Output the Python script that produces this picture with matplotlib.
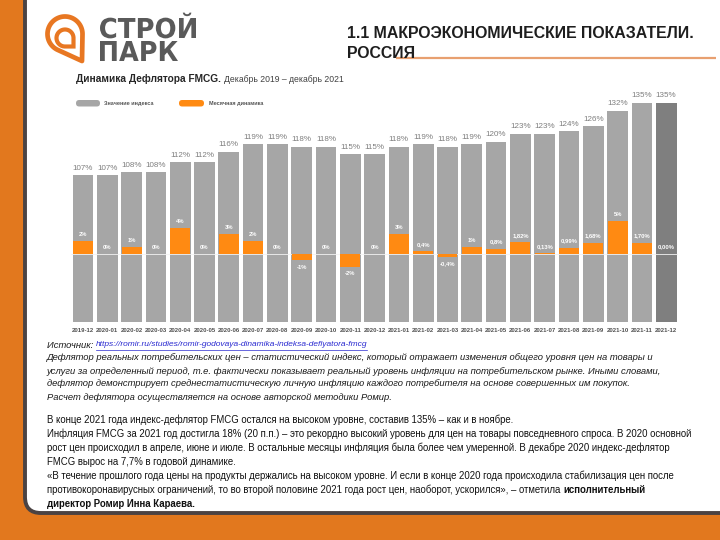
import numpy as np
import matplotlib
matplotlib.use("Agg")
import matplotlib.pyplot as plt
from matplotlib.patches import FancyBboxPatch, Polygon, PathPatch
from matplotlib.textpath import TextPath
from matplotlib.font_manager import FontProperties
from matplotlib.transforms import Affine2D

# data
months = ['2019-12', '2020-01', '2020-02', '2020-03', '2020-04', '2020-05', '2020-06',
          '2020-07', '2020-08', '2020-09', '2020-10', '2020-11', '2020-12', '2021-01',
          '2021-02', '2021-03', '2021-04', '2021-05', '2021-06', '2021-07', '2021-08',
          '2021-09', '2021-10', '2021-11', '2021-12']
index_values = [107, 107, 108, 108, 112, 112, 116, 119, 119, 118, 118, 115, 115, 118,
                119, 118, 119, 120, 123, 123, 124, 126, 132, 135, 135]
monthly_values = [2, 0, 1, 0, 4, 0, 3, 2, 0, -1, 0, -2, 0, 3,
                  0.4, -0.4, 1, 0.8, 1.82, 0.13, 0.99, 1.68, 5, 1.70, 0.0]
monthly_labels = ['2%', '0%', '1%', '0%', '4%', '0%', '3%', '2%', '0%', '-1%', '0%', '-2%', '0%', '3%',
                  '0,4%', '-0,4%', '1%', '0,8%', '1,82%', '0,13%', '0,99%', '1,68%', '5%', '1,70%', '0,00%']

ORANGE_BG = '#E2781E'
ORANGE = '#FF8A12'
GRAY = '#A6A6A6'
DARK = '#7F7F7F'
LOGO = '#E87722'

plt.rcParams['font.family'] = ['Liberation Sans', 'DejaVu Sans']

fig = plt.figure(figsize=(7.2, 5.4), dpi=100, facecolor=ORANGE_BG)

# background layer in pixel coordinates (y down)
bg = fig.add_axes([0, 0, 1, 1], zorder=0)
bg.set_xlim(0, 720)
bg.set_ylim(540, 0)
bg.axis('off')
bg.patch.set_alpha(0)

panel = FancyBboxPatch((25, -40), 740, 553, boxstyle='round,pad=0,rounding_size=16',
                       facecolor='white', edgecolor='#4B4343', linewidth=2.8)
bg.add_patch(panel)

# logo: teardrop ring with inner "a"
def drop(cx, cy, r, tx, ty, n=80):
    d = np.hypot(tx - cx, ty - cy)
    a0 = np.arctan2(ty - cy, tx - cx)
    da = np.arccos(r / d)
    ang = np.linspace(a0 + da, a0 - da + 2 * np.pi, n)
    pts = np.column_stack([cx + r * np.cos(ang), cy + r * np.sin(ang)])
    return np.vstack([pts, [tx, ty]])

bg.add_patch(Polygon(drop(65, 34, 17.5, 82, 61), closed=True, fill=False,
                     edgecolor=LOGO, linewidth=3.4, joinstyle='round'))
ang = np.linspace(np.pi / 2, 2 * np.pi, 60)
cx, cy, r = 65, 38, 8.5
inner = np.column_stack([cx + r * np.cos(ang), cy + r * np.sin(ang)])
inner = np.vstack([inner, [cx + r, cy + r]])
bg.add_patch(Polygon(inner, closed=True, fill=False, edgecolor=LOGO,
                     linewidth=3.0, joinstyle='miter'))

# brand name drawn as scaled text paths
logo_font = FontProperties(family='DejaVu Sans', weight='bold')
def brand_word(word, x0, y_base, width, cap):
    tp = TextPath((0, 0), word, size=10, prop=logo_font)
    ext = tp.get_extents()
    sx = width / ext.width
    sy = cap / 7.29
    tr = Affine2D().translate(-ext.x0, 0).scale(sx, -sy).translate(x0, y_base) + bg.transData
    bg.add_patch(PathPatch(tp, facecolor='#5A5A5A', edgecolor='none', transform=tr))

brand_word('СТРОЙ', 100, 38, 96, 20)
brand_word('ПАРК', 100, 61, 78, 20)

# slide title
bg.text(347, 33, '1.1 МАКРОЭКОНОМИЧЕСКИЕ ПОКАЗАТЕЛИ.', fontsize=11.4, fontweight='bold',
        color='#1E1E1E', va='center', ha='left')
bg.text(347, 54, 'РОССИЯ', fontsize=11.4, fontweight='bold', color='#1E1E1E',
        va='center', ha='left')
bg.plot([396, 716], [57.5, 57.5], color='#E8A070', lw=1.6, solid_capstyle='butt')

# chart title and legend
t1 = bg.text(76, 79, 'Динамика Дефлятора FMCG.', fontsize=7.3, fontweight='bold',
             color='#262626', va='center', ha='left')
fig.canvas.draw()
rend = fig.canvas.get_renderer()
bb = t1.get_window_extent(rend)
bg.text(bb.x1 + 3, 79.5, 'Декабрь 2019 – декабрь 2021', fontsize=6.2, color='#404040',
        va='center', ha='left')

bg.add_patch(FancyBboxPatch((76, 100), 24, 6.5, boxstyle='round,pad=0,rounding_size=3.2',
                            facecolor=GRAY, edgecolor='none'))
bg.text(104, 103.5, 'Значение индекса', fontsize=4.0, fontweight='bold', color='#555555',
        va='center', ha='left')
bg.add_patch(FancyBboxPatch((179, 100), 25, 6.5, boxstyle='round,pad=0,rounding_size=3.2',
                            facecolor=ORANGE, edgecolor='none'))
bg.text(209, 103.5, 'Месячная динамика', fontsize=4.0, fontweight='bold', color='#555555',
        va='center', ha='left')

# chart
ax = fig.add_axes([70.85 / 720, 218 / 540, 607.5 / 720, 232 / 540], zorder=2)
ax.patch.set_alpha(0)
x = np.arange(len(months))
colors = [GRAY] * (len(months) - 1) + [DARK]
ax.bar(x, index_values, width=0.85, color=colors, zorder=1)
ax.set_xlim(-0.5, len(months) - 0.5)
ax.set_ylim(50, 140)
ax.set_yticks([])
for s in ax.spines.values():
    s.set_visible(False)
ax.set_xticks(x, months, fontsize=4.3, fontweight='bold', color='#505050')
ax.tick_params(axis='x', length=0, pad=4)
for xi, v in zip(x, index_values):
    ax.annotate(f'{v}%', (xi, v), xytext=(0, 5), textcoords='offset points',
                ha='center', va='center', fontsize=5.8, color='#7F7F7F')

ax2 = ax.twinx()
ax2.set_ylim(-68 / 6.5, (232 - 68) / 6.5)
ax2.set_yticks([])
for s in ax2.spines.values():
    s.set_visible(False)
ax2.axhline(0, color='#F2F2F2', lw=0.6, zorder=1)
ax2.bar(x, monthly_values, width=0.82, color=ORANGE, zorder=2)
for xi, v, lab in zip(x, monthly_values, monthly_labels):
    off = -5 if v < 0 else 5
    ax2.annotate(lab, (xi, v), xytext=(0, off), textcoords='offset points',
                 ha='center', va='center', fontsize=4.2, fontweight='bold', color='white')

# text under the chart
fs_it = 6.72
fs = 6.93
src = bg.text(47, 345, 'Источник: ', fontsize=fs_it, style='italic', color='#1A1A1A',
              va='center', ha='left')
fig.canvas.draw()
bb = src.get_window_extent(rend)
link = bg.text(bb.x1, 345, 'https://romir.ru/studies/romir-godovaya-dinamika-indeksa-deflyatora-fmcg',
               fontsize=fs_it - 0.7, style='italic', color='#2A2AD0', va='center', ha='left')
fig.canvas.draw()
lb = link.get_window_extent(rend)
bg.plot([lb.x0, lb.x1], [349.5, 349.5], color='#2A2AD0', lw=0.5)

italic_lines = [
    'Дефлятор реальных потребительских цен – статистический индекс, который отражает изменения общего уровня цен на товары и',
    'услуги за определенный период, т.е. фактически показывает реальный уровень инфляции на потребительском рынке. Иными словами,',
    'дефлятор демонстрирует среднестатистическую личную инфляцию каждого потребителя на основе совершенных им покупок.',
    'Расчет дефлятора осуществляется на основе авторской методики Ромир.',
]
for i, line in enumerate(italic_lines):
    bg.text(47, 358 + i * 13, line, fontsize=fs_it, style='italic', color='#1A1A1A',
            va='center', ha='left')

normal_lines = [
    'В конце 2021 года индекс-дефлятор FMCG остался на высоком уровне, составив 135% – как и в ноябре.',
    'Инфляция FMCG за 2021 год достигла 18% (20 п.п.) – это рекордно высокий уровень для цен на товары повседневного спроса. В 2020 основной',
    'рост цен происходил в апреле, июне и июле. В остальные месяцы инфляция была более чем умеренной. В декабре 2020 индекс-дефлятор',
    'FMCG вырос на 7,7% в годовой динамике.',
    '«В течение прошлого года цены на продукты держались на высоком уровне. И если в конце 2020 года происходила стабилизация цен после',
    'противокоронавирусных ограничений, то во второй половине 2021 года рост цен, наоборот, ускорился», – отметила ',
]
for i, line in enumerate(normal_lines):
    t = bg.text(47, 420 + i * 14, line, fontsize=fs, color='#111111', va='center', ha='left')
fig.canvas.draw()
bb = t.get_window_extent(rend)
bg.text(bb.x1, 420 + 5 * 14, 'исполнительный', fontsize=fs, fontweight='bold',
        color='#111111', va='center', ha='left')
bg.text(47, 420 + 6 * 14, 'директор Ромир Инна Караева.', fontsize=fs, fontweight='bold',
        color='#111111', va='center', ha='left')

fig.savefig('out.png', dpi=100, facecolor=ORANGE_BG)
